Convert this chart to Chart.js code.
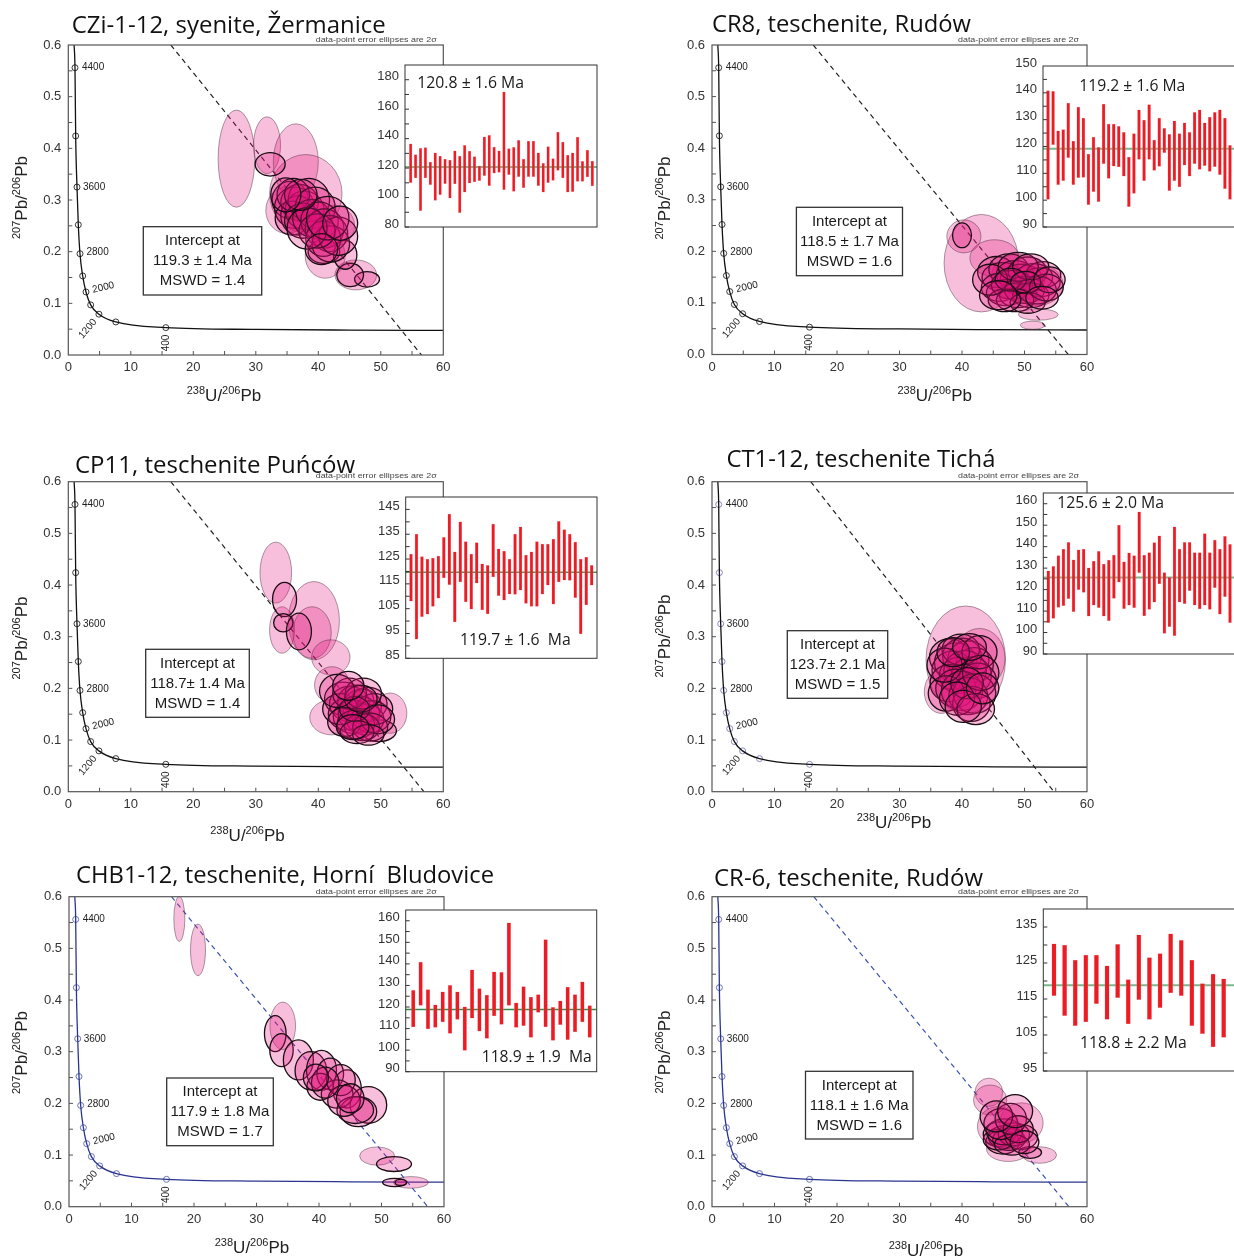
<!DOCTYPE html>
<html>
<head>
<meta charset="utf-8">
<title>U-Pb Tera-Wasserburg plots</title>
<script src="https://cdn.jsdelivr.net/npm/chart.js@4.4.1/dist/chart.umd.min.js"></script>
<style>
  html, body { margin: 0; padding: 0; background: #fff; overflow: hidden; }
  #page { position: relative; width: 1234px; height: 1257px; overflow: hidden; }
  #page canvas { position: absolute; }
</style>
</head>
<body>
<div id="page"></div>
<script>
// six Tera-Wasserburg plots, each with an inset of single-spot ages.
// all numbers.

// concordia and its age marks, same on every plot
const CONC_X = [0.93, 1.07, 1.18, 1.39, 1.60, 1.87, 2.30, 2.83, 3.58, 4.90, 7.60, 15.6, 30, 45, 60];
const CONC_Y = [0.600, 0.556, 0.424, 0.325, 0.252, 0.196, 0.153, 0.122, 0.097, 0.079, 0.064, 0.053, 0.0495, 0.0482, 0.0475];
const AGE_X = [1.07, 1.18, 1.39, 1.60, 1.87, 2.30, 2.83, 3.58, 4.90, 7.60, 15.6];
const AGE_Y = [0.556, 0.424, 0.325, 0.252, 0.196, 0.153, 0.122, 0.097, 0.079, 0.064, 0.053];
const AGE_LABELS = ["4400", "", "3600", "", "2800", "", "2000", "", "1200", "", "400"];
const X_TICKS = [0, 10, 20, 30, 40, 50, 60];
const Y_TICKS = [0, 0.1, 0.2, 0.3, 0.4, 0.5, 0.6];
const DISC_Y = [0.6, 0];
const NOTE = "data-point error ellipses are 2σ";

// ---- CZi-1-12 ----
const CZI_TITLE = "CZi-1-12, syenite, Žermanice";
const CZI_DISC_X = [16.4, 56.5];
const CZI_INTERCEPT = ["Intercept at", "119.3 ± 1.4 Ma", "MSWD = 1.4"];
// ellipses [x, y, half-width, half-height]
const CZI_FAINT = [
  [26.9, 0.380, 2.93, 0.094], [31.8, 0.406, 2.16, 0.055], [36.4, 0.374, 3.6, 0.0735],
  [38.0, 0.312, 5.8, 0.076], [41.1, 0.192, 3.2, 0.0435], [46.0, 0.155, 3.33, 0.029],
  [35.0, 0.280, 3.4, 0.045], [42.5, 0.250, 3.3, 0.040]
];
const CZI_BOLD = [
  [32.3, 0.369, 2.4, 0.0226], [47.8, 0.1465, 2.0, 0.015], [45.1, 0.155, 2.13, 0.0226],
  [40.9, 0.200, 2.53, 0.0226], [44.3, 0.194, 1.87, 0.028],
  [35.5, 0.300, 2.9, 0.036], [36.2, 0.285, 3.2, 0.040], [37.0, 0.295, 3.0, 0.035],
  [36.8, 0.270, 2.8, 0.038], [37.8, 0.280, 3.1, 0.037], [35.8, 0.265, 2.7, 0.033],
  [38.5, 0.300, 3.3, 0.042], [36.0, 0.310, 2.6, 0.032], [37.5, 0.260, 2.9, 0.034],
  [38.9, 0.265, 3.0, 0.036], [39.5, 0.285, 3.2, 0.040], [40.2, 0.260, 3.0, 0.036],
  [41.0, 0.245, 3.1, 0.038], [41.8, 0.235, 2.9, 0.035], [40.8, 0.225, 2.8, 0.034],
  [42.0, 0.215, 3.0, 0.035], [43.2, 0.230, 3.1, 0.037], [39.8, 0.240, 2.9, 0.033],
  [38.2, 0.245, 3.2, 0.040], [41.5, 0.265, 3.4, 0.042], [43.5, 0.255, 2.8, 0.033],
  [40.5, 0.205, 2.6, 0.030], [37.2, 0.310, 2.6, 0.030], [34.8, 0.310, 2.4, 0.033]
];
const CZI_LO = [110.1, 113.3, 91.1, 113.3, 108.8, 98.1, 102.0, 109.4, 99.5, 109.2, 89.7, 103.6, 109.7, 110.6, 111.5, 114.9, 108.1, 116.5, 117.1, 105.4, 115.5, 104.2, 114.2, 106.7, 114.2, 114.2, 108.1, 103.6, 110.1, 111.7, 118.5, 113.3, 103.6, 104.0, 111.0, 111.0, 114.0, 107.9];
const CZI_HI = [136.4, 129.1, 133.4, 133.9, 124.1, 130.3, 128.2, 126.2, 125.5, 131.8, 128.2, 135.5, 131.6, 127.8, 121.4, 141.3, 142.3, 134.3, 131.8, 171.7, 133.2, 134.1, 138.9, 126.2, 138.4, 138.4, 130.3, 123.2, 134.6, 126.4, 144.5, 137.7, 128.9, 130.3, 141.1, 124.6, 132.3, 124.8];
const CZI_MEAN = 120.8;
const CZI_MEAN_LABEL = "120.8 ± 1.6 Ma";
const CZI_AGE_TICKS = [80, 100, 120, 140, 160, 180];

// ---- CR8 ----
const CR8_TITLE = "CR8, teschenite, Rudów";
const CR8_DISC_X = [16.2, 57.0];
const CR8_INTERCEPT = ["Intercept at", "118.5 ± 1.7 Ma", "MSWD = 1.6"];
const CR8_FAINT = [
  [43.1, 0.177, 5.97, 0.0945], [40.3, 0.229, 2.73, 0.032], [45.2, 0.187, 3.94, 0.0355],
  [52.2, 0.0774, 3.18, 0.011], [51.3, 0.0568, 1.97, 0.008], [49.0, 0.150, 4.3, 0.045],
  [52.0, 0.135, 4.2, 0.040]
];
const CR8_BOLD = [
  [40.0, 0.231, 1.52, 0.024],
  [45.5, 0.160, 3.0, 0.030], [46.5, 0.150, 3.3, 0.028], [47.5, 0.165, 3.2, 0.030],
  [48.5, 0.155, 3.0, 0.027], [49.5, 0.145, 3.4, 0.030], [50.5, 0.160, 3.1, 0.029],
  [51.5, 0.150, 3.0, 0.026], [52.5, 0.140, 3.2, 0.028], [53.0, 0.155, 2.8, 0.025],
  [46.0, 0.130, 2.9, 0.027], [47.0, 0.120, 3.1, 0.025], [48.0, 0.135, 3.3, 0.028],
  [49.0, 0.115, 3.0, 0.024], [50.0, 0.125, 3.2, 0.026], [51.0, 0.115, 2.9, 0.024],
  [52.0, 0.125, 3.1, 0.027], [48.5, 0.105, 3.0, 0.022], [50.5, 0.100, 2.8, 0.020],
  [46.8, 0.105, 2.6, 0.022], [44.5, 0.145, 2.8, 0.030], [53.5, 0.130, 2.7, 0.026],
  [49.0, 0.170, 3.2, 0.028], [51.0, 0.170, 2.9, 0.025], [47.8, 0.145, 2.5, 0.022],
  [50.2, 0.140, 2.4, 0.021], [45.8, 0.115, 3.0, 0.028], [54.0, 0.145, 2.5, 0.025],
  [52.8, 0.110, 2.6, 0.022]
];
const CR8_LO = [100.3, 120.7, 105.8, 107.3, 115.8, 105.8, 108.4, 108.5, 98.3, 103.2, 99.4, 113.6, 108.1, 112.7, 112.4, 108.9, 97.6, 102.5, 115.2, 107.3, 115.2, 111.1, 112.6, 117.7, 103.5, 107.3, 104.9, 113.0, 108.9, 113.6, 111.5, 112.9, 110.7, 112.5, 109.5, 104.3, 100.3];
const CR8_HI = [140.8, 140.6, 125.8, 126.3, 136.2, 122.0, 134.7, 130.6, 117.2, 123.5, 119.7, 135.8, 128.4, 128.4, 127.5, 125.3, 116.1, 124.8, 133.7, 129.8, 135.6, 122.4, 130.6, 126.8, 124.5, 129.6, 124.8, 128.8, 125.3, 132.7, 133.7, 128.8, 131.0, 132.7, 133.7, 130.6, 120.4];
const CR8_MEAN = 119.2;
const CR8_MEAN_LABEL = "119.2 ± 1.6 Ma";
const CR8_AGE_TICKS = [90, 100, 110, 120, 130, 140, 150];

// ---- CP11 ----
const CP11_TITLE = "CP11, teschenite Puńców";
const CP11_DISC_X = [16.4, 56.9];
const CP11_INTERCEPT = ["Intercept at", "118.7± 1.4 Ma", "MSWD = 1.4"];
const CP11_FAINT = [
  [33.2, 0.424, 2.53, 0.059], [39.3, 0.331, 4.08, 0.0758], [34.2, 0.313, 2.0, 0.045],
  [39.0, 0.308, 3.07, 0.050], [42.0, 0.260, 3.07, 0.034], [42.2, 0.2065, 2.8, 0.0355],
  [42.1, 0.144, 3.47, 0.034], [51.5, 0.152, 2.67, 0.039]
];
const CP11_BOLD = [
  [34.6, 0.372, 1.92, 0.033], [34.4, 0.327, 1.55, 0.0177], [36.9, 0.310, 2.0, 0.0355],
  [49.7, 0.118, 2.8, 0.021],
  [44.0, 0.180, 3.0, 0.032], [45.0, 0.170, 3.2, 0.034], [46.0, 0.175, 2.9, 0.031],
  [47.0, 0.165, 3.1, 0.033], [48.0, 0.170, 3.0, 0.032], [44.5, 0.150, 2.9, 0.030],
  [45.5, 0.145, 3.1, 0.032], [46.5, 0.150, 3.3, 0.035], [47.5, 0.140, 3.0, 0.030],
  [48.5, 0.145, 3.1, 0.031], [43.5, 0.160, 2.8, 0.030], [49.0, 0.160, 2.9, 0.030],
  [46.0, 0.130, 3.0, 0.028], [47.0, 0.125, 2.8, 0.026], [45.0, 0.190, 2.7, 0.030],
  [47.2, 0.190, 2.9, 0.030], [44.2, 0.135, 2.7, 0.028], [48.3, 0.125, 2.8, 0.027],
  [45.8, 0.160, 2.4, 0.024], [46.8, 0.180, 2.6, 0.026], [43.0, 0.195, 2.8, 0.032],
  [49.5, 0.140, 2.7, 0.028], [44.8, 0.205, 2.5, 0.028], [46.2, 0.115, 2.7, 0.022],
  [48.0, 0.110, 2.5, 0.020], [45.5, 0.125, 2.6, 0.024]
];
const CP11_LO = [108.0, 92.7, 101.8, 102.8, 105.9, 109.2, 117.4, 114.7, 99.7, 115.8, 107.7, 104.8, 115.3, 104.5, 102.9, 117.8, 110.2, 108.4, 110.8, 110.7, 112.5, 107.1, 105.9, 105.9, 110.8, 114.5, 106.8, 115.8, 116.5, 116.4, 109.4, 94.8, 106.5, 114.5];
const CP11_HI = [127.0, 135.1, 126.0, 125.0, 125.4, 126.2, 133.7, 143.1, 127.9, 140.0, 132.0, 127.0, 131.6, 123.1, 122.5, 139.1, 129.1, 128.2, 125.0, 135.1, 138.0, 126.6, 127.9, 132.0, 131.0, 131.0, 133.0, 140.2, 136.9, 135.1, 131.8, 125.0, 125.8, 122.5];
const CP11_MEAN = 119.7;
const CP11_MEAN_LABEL = "119.7 ± 1.6  Ma";
const CP11_AGE_TICKS = [85, 95, 105, 115, 125, 135, 145];

// ---- CT1-12 ----
const CT1_TITLE = "CT1-12, teschenite Tichá";
const CT1_DISC_X = [15.8, 54.7];
const CT1_INTERCEPT = ["Intercept at", "123.7± 2.1 Ma", "MSWD = 1.5"];
const CT1_FAINT = [
  [40.6, 0.2555, 6.36, 0.104], [36.7, 0.1935, 2.73, 0.042], [42.8, 0.258, 4.09, 0.058]
];
const CT1_BOLD = [
  [38.0, 0.260, 3.2, 0.036], [39.0, 0.250, 3.4, 0.038], [40.0, 0.262, 3.1, 0.035],
  [41.0, 0.255, 3.3, 0.037], [42.0, 0.245, 3.0, 0.034], [38.5, 0.235, 3.3, 0.037],
  [39.5, 0.225, 3.1, 0.035], [40.5, 0.235, 3.4, 0.038], [41.5, 0.225, 3.2, 0.036],
  [42.5, 0.215, 3.0, 0.034], [38.0, 0.210, 3.1, 0.036], [39.0, 0.200, 3.2, 0.037],
  [40.0, 0.195, 3.3, 0.038], [41.0, 0.185, 3.1, 0.036], [42.0, 0.190, 3.4, 0.038],
  [41.5, 0.170, 3.0, 0.034], [37.5, 0.190, 2.9, 0.034], [39.8, 0.275, 3.0, 0.030],
  [42.8, 0.270, 2.8, 0.032], [43.0, 0.230, 2.9, 0.034], [37.2, 0.245, 2.8, 0.033],
  [40.8, 0.210, 2.6, 0.030], [39.2, 0.180, 2.8, 0.032], [42.2, 0.160, 3.0, 0.030],
  [40.2, 0.165, 2.9, 0.031], [38.6, 0.270, 2.6, 0.028], [41.2, 0.280, 2.7, 0.026],
  [43.3, 0.200, 2.6, 0.030]
];
const CT1_LO = [104.6, 106.6, 111.7, 112.5, 115.8, 109.7, 120.0, 118.7, 107.6, 112.8, 111.6, 107.6, 105.5, 115.9, 123.5, 111.1, 112.7, 111.6, 127.9, 107.7, 110.8, 114.1, 122.6, 99.6, 102.7, 98.5, 114.1, 113.5, 119.5, 112.7, 111.0, 112.7, 110.8, 120.9, 108.6, 116.7, 104.6];
const CT1_HI = [128.8, 130.8, 135.8, 138.9, 142.0, 133.9, 138.5, 138.9, 130.1, 133.3, 137.8, 131.9, 133.8, 136.1, 150.1, 132.9, 137.1, 135.8, 156.2, 136.1, 137.2, 141.9, 145.0, 127.9, 125.7, 149.2, 138.9, 142.0, 142.0, 137.2, 137.2, 146.1, 137.2, 143.1, 138.9, 144.8, 141.1];
const CT1_MEAN = 125.6;
const CT1_MEAN_LABEL = "125.6 ± 2.0 Ma";
const CT1_AGE_TICKS = [90, 100, 110, 120, 130, 140, 150, 160];

// ---- CHB1-12 ----
const CHB1_TITLE = "CHB1-12, teschenite, Horní  Bludovice";
const CHB1_DISC_X = [16.4, 57.4];
const CHB1_INTERCEPT = ["Intercept at", "117.9 ± 1.8 Ma", "MSWD = 1.7"];
const CHB1_FAINT = [
  [17.65, 0.557, 0.88, 0.0435], [20.64, 0.497, 1.2, 0.050], [34.2, 0.350, 2.05, 0.046],
  [49.3, 0.098, 2.8, 0.0177], [54.7, 0.047, 2.8, 0.0113]
];
const CHB1_BOLD = [
  [33.0, 0.335, 1.73, 0.035], [34.0, 0.303, 1.87, 0.032], [36.7, 0.284, 2.4, 0.0387],
  [38.7, 0.263, 2.53, 0.037], [40.4, 0.264, 2.4, 0.0387], [41.8, 0.257, 2.13, 0.0306],
  [40.2, 0.232, 2.13, 0.026], [44.5, 0.228, 2.27, 0.037], [47.9, 0.197, 2.93, 0.0355],
  [46.3, 0.184, 2.93, 0.029], [42.9, 0.218, 2.53, 0.0274], [45.8, 0.187, 2.93, 0.026],
  [52.0, 0.0826, 2.8, 0.0145], [52.1, 0.047, 1.92, 0.008], [53.1, 0.047, 0.93, 0.006],
  [43.5, 0.245, 2.3, 0.030], [44.0, 0.205, 2.6, 0.030], [45.0, 0.210, 2.2, 0.028],
  [41.0, 0.240, 2.2, 0.030], [39.5, 0.250, 2.0, 0.026]
];
const CHB1_LO = [110.8, 120.7, 109.9, 110.5, 113.1, 107.7, 114.2, 99.9, 114.8, 108.8, 105.4, 115.9, 111.9, 120.7, 110.5, 111.3, 105.9, 117.5, 110.8, 104.5, 111.8, 104.8, 108.4, 113.1, 105.9];
const CHB1_HI = [127.7, 140.9, 128.1, 121.0, 127.0, 130.1, 127.0, 120.1, 137.2, 128.6, 125.5, 136.3, 136.1, 159.1, 121.9, 129.5, 124.6, 125.8, 151.3, 119.9, 122.9, 129.2, 125.8, 131.7, 120.7];
const CHB1_MEAN = 118.9;
const CHB1_MEAN_LABEL = "118.9 ± 1.9  Ma";
const CHB1_AGE_TICKS = [90, 100, 110, 120, 130, 140, 150, 160];

// ---- CR-6 ----
const CR6_TITLE = "CR-6, teschenite, Rudów";
const CR6_DISC_X = [16.3, 57.1];
const CR6_INTERCEPT = ["Intercept at", "118.1 ± 1.6 Ma", "MSWD = 1.6"];
const CR6_FAINT = [
  [44.3, 0.2214, 2.21, 0.0274], [44.5, 0.2065, 2.67, 0.029], [49.5, 0.162, 3.48, 0.039],
  [45.8, 0.155, 3.33, 0.0387], [47.4, 0.1117, 3.48, 0.0242], [52.4, 0.100, 2.73, 0.016]
];
const CR6_BOLD = [
  [50.9, 0.105, 1.82, 0.0113],
  [46.0, 0.140, 2.6, 0.024], [47.0, 0.135, 2.8, 0.022], [46.5, 0.125, 2.7, 0.023],
  [47.5, 0.130, 2.6, 0.021], [45.8, 0.130, 2.4, 0.020], [48.3, 0.140, 2.5, 0.022],
  [46.8, 0.145, 2.9, 0.025], [49.5, 0.135, 2.6, 0.024], [48.0, 0.120, 2.8, 0.020],
  [46.2, 0.160, 2.7, 0.030], [47.8, 0.170, 2.5, 0.030], [49.0, 0.150, 2.4, 0.026],
  [50.0, 0.125, 2.3, 0.022], [45.5, 0.175, 2.6, 0.030], [48.5, 0.185, 2.8, 0.032]
];
const CR6_LO = [115.9, 110.4, 107.6, 108.6, 113.7, 109.3, 115.4, 108.1, 114.8, 109.3, 112.6, 116.7, 115.9, 107.6, 105.4, 101.7, 104.3];
const CR6_HI = [130.3, 130.0, 125.8, 127.2, 127.2, 124.2, 130.2, 120.4, 132.8, 126.5, 127.6, 133.1, 131.3, 125.8, 119.3, 121.9, 120.6];
const CR6_MEAN = 118.8;
const CR6_MEAN_LABEL = "118.8 ± 2.2 Ma";
const CR6_AGE_TICKS = [95, 105, 115, 125, 135];

// ---------------- layout (page pixels) ----------------
const SANS = '"Liberation Sans", Arial, sans-serif';
const HEAD = '"Open Sans", "Noto Sans", sans-serif';
const ELL_FILL = "rgba(226, 20, 122, 0.27)";
const BLACK = { conc: "#111", disc: "#222" };
const BLUE = { conc: "#2a3590", disc: "#3b52b4" };

// [dx, dy, angle deg, align] from the marker
const AGE_LABEL_POS = [[7, 0, 0, "left"], null, [6, 0, 0, "left"], null, [6.5, -1.4, 0, "left"],
  null, [6.5, -2, -13, "left"], null, [-4, 6, -50, "right"], null, [0, 7, -90, "right"]];

const PANELS = [
  { canvas: [0, 0, 617, 428], plot: { l: 68.3, t: 45, r: 443.3, b: 355 }, col: BLACK, mark: "#222",
    title: CZI_TITLE, titlePos: [71.7, 33.3, 314], note: [436.7, 42], xt: [224, 401], yt: [26.5, 197.5],
    box: [143.3, 226.7, 118.4, 68.3], lines: [240.7, 261, 281], text: CZI_INTERCEPT,
    disc: CZI_DISC_X, faint: CZI_FAINT, bold: CZI_BOLD },
  { canvas: [617, 0, 617, 428], plot: { l: 712, t: 45, r: 1087, b: 354.5 }, col: BLACK, mark: "#222",
    title: CR8_TITLE, titlePos: [712, 31.5, 259], note: [1079, 42], xt: [934.7, 401], yt: [670, 198],
    box: [796.4, 207.3, 106.1, 68.4], lines: [222, 242, 262], text: CR8_INTERCEPT,
    disc: CR8_DISC_X, faint: CR8_FAINT, bold: CR8_BOLD },
  { canvas: [0, 428, 617, 425], plot: { l: 68.3, t: 481.7, r: 443.3, b: 791.7 }, col: BLACK, mark: "#222",
    title: CP11_TITLE, titlePos: [75, 473, 280], note: [436.7, 478], xt: [247.5, 841], yt: [26.5, 638],
    box: [145.7, 649.3, 103.6, 68], lines: [664, 684, 704], text: CP11_INTERCEPT,
    disc: CP11_DISC_X, faint: CP11_FAINT, bold: CP11_BOLD },
  { canvas: [617, 428, 617, 425], plot: { l: 712, t: 481.7, r: 1087, b: 791.7 }, col: BLACK, mark: "#7c7cba",
    title: CT1_TITLE, titlePos: [726.4, 467.3, 269], note: [1079, 478], xt: [894, 828], yt: [670, 636],
    box: [787.3, 630.7, 100.4, 67.6], lines: [645, 665.3, 685], text: CT1_INTERCEPT,
    disc: CT1_DISC_X, faint: CT1_FAINT, bold: CT1_BOLD },
  { canvas: [0, 853, 617, 404], plot: { l: 69, t: 896.7, r: 444, b: 1206.7 }, col: BLUE, mark: "#5a63ad",
    title: CHB1_TITLE, titlePos: [76, 883.3, 418], note: [436.7, 894], xt: [252, 1253], yt: [26.5, 1052.5],
    box: [166.7, 1078, 106.6, 67.7], lines: [1091.7, 1111.7, 1131.7], text: CHB1_INTERCEPT,
    disc: CHB1_DISC_X, faint: CHB1_FAINT, bold: CHB1_BOLD },
  { canvas: [617, 853, 617, 404], plot: { l: 712, t: 896.7, r: 1087, b: 1206.7 }, col: BLUE, mark: "#5a63ad",
    title: CR6_TITLE, titlePos: [714, 886, 269], note: [1079, 894], xt: [926, 1256], yt: [670, 1052],
    box: [805.5, 1071.3, 107.5, 67.7], lines: [1086, 1106, 1126], text: CR6_INTERCEPT,
    disc: CR6_DISC_X, faint: CR6_FAINT, bold: CR6_BOLD }
];

const GREEN = "#78b98d";
const INSETS = [
  { box: { l: 405, t: 65, r: 597, b: 227 }, y: [80, 190], ticks: CZI_AGE_TICKS, minor: 10, x: [-0.16, 38.96], bar: 2.7,
    lo: CZI_LO, hi: CZI_HI, mean: CZI_MEAN, label: CZI_MEAN_LABEL, labelPos: [417.3, 88.3, 106.7], green: GREEN, gw: 2 },
  { box: { l: 1043, t: 66, r: 1240, b: 227 }, y: [90, 150], ticks: CR8_AGE_TICKS, minor: 5, x: [0.01, 38.98], bar: 3,
    lo: CR8_LO, hi: CR8_HI, mean: CR8_MEAN, label: CR8_MEAN_LABEL, labelPos: [1079.3, 90.7, 106], green: GREEN, gw: 2 },
  { box: { l: 405.7, t: 497, r: 597, b: 658.3 }, y: [85, 150], ticks: CP11_AGE_TICKS, minor: 5, x: [0.03, 34.97], bar: 3,
    lo: CP11_LO, hi: CP11_HI, mean: CP11_MEAN, label: CP11_MEAN_LABEL, labelPos: [460, 645, 110.7], green: "#3f9a5a", gw: 1.5 },
  { box: { l: 1043.3, t: 493, r: 1240, b: 654 }, y: [90, 165], ticks: CT1_AGE_TICKS, minor: 5, x: [0.01, 38.98], bar: 3,
    lo: CT1_LO, hi: CT1_HI, mean: CT1_MEAN, label: CT1_MEAN_LABEL, labelPos: [1057.3, 508.3, 106.7], green: GREEN, gw: 2 },
  { box: { l: 405.7, t: 910, r: 596.7, b: 1071.7 }, y: [90, 165], ticks: CHB1_AGE_TICKS, minor: 5, x: [-0.03, 25.95], bar: 3.7,
    lo: CHB1_LO, hi: CHB1_HI, mean: CHB1_MEAN, label: CHB1_MEAN_LABEL, labelPos: [481.7, 1061.7, 110], green: "#2e8b45", gw: 1.5 },
  { box: { l: 1043.3, t: 909, r: 1240, b: 1071 }, y: [95, 140], ticks: CR6_AGE_TICKS, minor: 5, x: [-0.01, 18.54], bar: 4.3,
    lo: CR6_LO, hi: CR6_HI, mean: CR6_MEAN, label: CR6_MEAN_LABEL, labelPos: [1080, 1048.3, 106.7], green: GREEN, gw: 2 }
];

const X_TITLE = [["238", 1], ["U/", 0], ["206", 1], ["Pb", 0]];
const Y_TITLE = [["207", 1], ["Pb/", 0], ["206", 1], ["Pb", 0]];

// ---------------- helpers ----------------
const page = document.getElementById("page");

function addCanvas(x, y, w, h) {
  const c = document.createElement("canvas");
  c.width = w; c.height = h;
  c.style.left = x + "px"; c.style.top = y + "px";
  c.style.width = w + "px"; c.style.height = h + "px";
  page.appendChild(c);
  return c;
}

// draw text squeezed/stretched to a given width (the original face is narrower)
function fitText(ctx, text, x, y, width, font) {
  ctx.font = font;
  const w = ctx.measureText(text).width;
  ctx.save();
  ctx.translate(x, y);
  ctx.scale(width / w, 1);
  ctx.textAlign = "left";
  ctx.textBaseline = "alphabetic";
  ctx.fillText(text, 0, 0);
  ctx.restore();
}

// centred text with superscripts
function richText(ctx, parts, x, y, angle, size) {
  const small = Math.round(size * 0.64);
  ctx.save();
  ctx.translate(x, y);
  ctx.rotate(angle);
  ctx.textAlign = "left";
  ctx.textBaseline = "alphabetic";
  const fonts = parts.map((p) => (p[1] ? small : size) + "px " + SANS);
  let w = 0;
  parts.forEach((p, i) => { ctx.font = fonts[i]; w += ctx.measureText(p[0]).width; });
  let cx = -w / 2;
  parts.forEach((p, i) => {
    ctx.font = fonts[i];
    ctx.fillText(p[0], cx, p[1] ? -size * 0.4 : 0);
    cx += ctx.measureText(p[0]).width;
  });
  ctx.restore();
}

function drawEllipses(chart, list, bold) {
  const { ctx, chartArea: a, scales: { x, y } } = chart;
  ctx.save();
  ctx.beginPath();
  ctx.rect(a.left, a.top, a.right - a.left, a.bottom - a.top);
  ctx.clip();
  for (const [cx, cy, rx, ry] of list) {
    const px = x.getPixelForValue(cx), py = y.getPixelForValue(cy);
    const w = Math.abs(x.getPixelForValue(cx + rx) - px);
    const h = Math.abs(y.getPixelForValue(cy + ry) - py);
    ctx.beginPath();
    ctx.ellipse(px, py, w, h, 0, 0, Math.PI * 2);
    ctx.fillStyle = ELL_FILL;
    ctx.fill();
    ctx.lineWidth = bold ? 1.3 : 0.6;
    ctx.strokeStyle = bold ? "#1b0d14" : "rgba(70, 40, 55, 0.75)";
    ctx.stroke();
  }
  ctx.restore();
}

function mainChart(P) {
  const [ox, oy, w, h] = P.canvas;
  const cv = addCanvas(ox, oy, w, h);
  const p = P.plot;
  const YW = 60, XH = 30;
  const tickFont = { family: SANS, size: 13 };

  const decor = {
    id: "decor",
    afterDatasetsDraw(chart) {
      drawEllipses(chart, P.faint, false);
      drawEllipses(chart, P.bold, true);
    },
    afterDraw(chart) {
      const { ctx, chartArea: a, scales: { x, y } } = chart;
      ctx.save();
      // frame + inward ticks
      ctx.strokeStyle = "#555";
      ctx.lineWidth = 1.2;
      ctx.strokeRect(a.left, a.top, a.right - a.left, a.bottom - a.top);
      ctx.lineWidth = 1;
      ctx.beginPath();
      for (let v = 5; v < 60; v += 5) {
        const px = x.getPixelForValue(v);
        ctx.moveTo(px, a.bottom); ctx.lineTo(px, a.bottom - 4);
      }
      for (let v = 0.05; v < 0.599; v += 0.05) {
        const py = y.getPixelForValue(v);
        ctx.moveTo(a.left, py); ctx.lineTo(a.left + 4, py);
      }
      ctx.stroke();

      // age labels on the concordia
      ctx.fillStyle = "#222";
      ctx.font = "10px " + SANS;
      ctx.textBaseline = "middle";
      AGE_LABELS.forEach((lab, i) => {
        const pos = AGE_LABEL_POS[i];
        if (!lab || !pos) return;
        ctx.save();
        ctx.translate(x.getPixelForValue(AGE_X[i]) + pos[0], y.getPixelForValue(AGE_Y[i]) + pos[1]);
        ctx.rotate(pos[2] * Math.PI / 180);
        ctx.textAlign = pos[3];
        ctx.fillText(lab, 0, 0);
        ctx.restore();
      });

      // title, note, axis titles
      ctx.fillStyle = "#111";
      fitText(ctx, P.title, P.titlePos[0] - ox, P.titlePos[1] - oy, P.titlePos[2], "24px " + HEAD);
      ctx.fillStyle = "#444";
      fitText(ctx, NOTE, P.note[0] - ox - 121, P.note[1] - oy, 121, "8px " + SANS);
      ctx.fillStyle = "#222";
      richText(ctx, X_TITLE, P.xt[0] - ox, P.xt[1] - oy, 0, 17);
      richText(ctx, Y_TITLE, P.yt[0] - ox, P.yt[1] - oy, -Math.PI / 2, 17);

      // intercept box
      const [bx, by, bw, bh] = P.box;
      ctx.fillStyle = "#fff";
      ctx.fillRect(bx - ox, by - oy, bw, bh);
      ctx.strokeStyle = "#333";
      ctx.lineWidth = 1.3;
      ctx.strokeRect(bx - ox, by - oy, bw, bh);
      ctx.fillStyle = "#1a1a1a";
      ctx.font = "15px " + SANS;
      ctx.textAlign = "center";
      ctx.textBaseline = "middle";
      P.text.forEach((t, i) => ctx.fillText(t, bx - ox + bw / 2, P.lines[i] - oy));
      ctx.restore();
    }
  };

  return new Chart(cv, {
    type: "scatter",
    data: {
      datasets: [
        {
          type: "line",
          data: P.disc.map((xv, i) => ({ x: xv, y: DISC_Y[i] })),
          borderColor: P.col.disc, borderDash: [5, 4], borderWidth: 1.2, pointRadius: 0
        },
        {
          type: "line",
          data: CONC_X.map((xv, i) => ({ x: xv, y: CONC_Y[i] })),
          borderColor: P.col.conc, borderWidth: 1.3, pointRadius: 0, cubicInterpolationMode: "monotone"
        },
        {
          type: "scatter",
          data: AGE_X.map((xv, i) => ({ x: xv, y: AGE_Y[i] })),
          pointRadius: 3, pointBackgroundColor: "#fff", pointBorderColor: P.mark, pointBorderWidth: 0.9
        }
      ]
    },
    options: {
      responsive: false,
      animation: false,
      events: [],
      layout: {
        padding: { left: p.l - ox - YW, top: p.t - oy, right: ox + w - p.r, bottom: oy + h - p.b - XH }
      },
      plugins: { legend: { display: false }, tooltip: { enabled: false } },
      scales: {
        x: {
          type: "linear", min: 0, max: 60,
          afterBuildTicks: (s) => { s.ticks = X_TICKS.map((v) => ({ value: v })); },
          afterFit: (s) => { s.height = XH; },
          grid: { display: false, drawTicks: false },
          border: { display: false },
          ticks: { font: tickFont, color: "#333", padding: 5, maxRotation: 0, autoSkip: false }
        },
        y: {
          type: "linear", min: 0, max: 0.6,
          afterBuildTicks: (s) => { s.ticks = Y_TICKS.map((v) => ({ value: v })); },
          afterFit: (s) => { s.width = YW; },
          grid: { display: false, drawTicks: false },
          border: { display: false },
          ticks: { font: tickFont, color: "#333", padding: 7, autoSkip: false, callback: (v) => v.toFixed(1) }
        }
      }
    },
    plugins: [decor]
  });
}

function insetChart(I) {
  const b = I.box;
  const ox = Math.floor(b.l) - 45, oy = Math.floor(b.t) - 15;
  const w = Math.ceil(b.r - ox) + 5, h = Math.ceil(b.b - oy) + 15;
  const cv = addCanvas(ox, oy, w, h);
  const YW = 40;

  const deco = {
    id: "insetDeco",
    beforeDraw(chart) {
      const { ctx, chartArea: a } = chart;
      ctx.save();
      ctx.fillStyle = "#fff";
      ctx.fillRect(a.left, a.top, a.right - a.left, a.bottom - a.top);
      ctx.restore();
    },
    afterDraw(chart) {
      const { ctx, chartArea: a, scales: { y } } = chart;
      ctx.save();
      ctx.strokeStyle = "#333";
      ctx.lineWidth = 1;
      ctx.strokeRect(a.left, a.top, a.right - a.left, a.bottom - a.top);
      ctx.beginPath();
      for (let v = I.ticks[0]; v < I.y[1]; v += I.minor) {
        const py = y.getPixelForValue(v);
        ctx.moveTo(a.left, py); ctx.lineTo(a.left + 4, py);
      }
      ctx.stroke();
      ctx.fillStyle = "#1a1a1a";
      fitText(ctx, I.label, I.labelPos[0] - ox, I.labelPos[1] - oy, I.labelPos[2], "16px " + HEAD);
      ctx.restore();
    }
  };

  return new Chart(cv, {
    type: "bar",
    data: {
      datasets: [
        {
          type: "bar",
          data: I.lo.map((lo, i) => ({ x: i + 1, y: [lo, I.hi[i]] })),
          backgroundColor: "#ec1c24",
          borderColor: "rgba(240, 120, 130, 0.6)",
          borderWidth: 0.5,
          borderSkipped: false,
          barThickness: I.bar,
          order: 1
        },
        {
          type: "line",
          data: [{ x: I.x[0], y: I.mean }, { x: I.x[1], y: I.mean }],
          borderColor: I.green, borderWidth: I.gw, pointRadius: 0,
          order: 2
        }
      ]
    },
    options: {
      responsive: false,
      animation: false,
      events: [],
      layout: {
        padding: { left: b.l - ox - YW, top: b.t - oy, right: ox + w - b.r, bottom: oy + h - b.b }
      },
      plugins: { legend: { display: false }, tooltip: { enabled: false } },
      scales: {
        x: { type: "linear", min: I.x[0], max: I.x[1], offset: false, display: false },
        y: {
          min: I.y[0], max: I.y[1],
          afterBuildTicks: (s) => { s.ticks = I.ticks.map((v) => ({ value: v })); },
          afterFit: (s) => { s.width = YW; },
          grid: { display: false, drawTicks: false },
          border: { display: false },
          ticks: { font: { family: SANS, size: 13 }, color: "#333", padding: 6, labelOffset: -3, autoSkip: false }
        }
      }
    },
    plugins: [deco]
  });
}

PANELS.forEach(mainChart);
INSETS.forEach(insetChart);
</script>
</body>
</html>
